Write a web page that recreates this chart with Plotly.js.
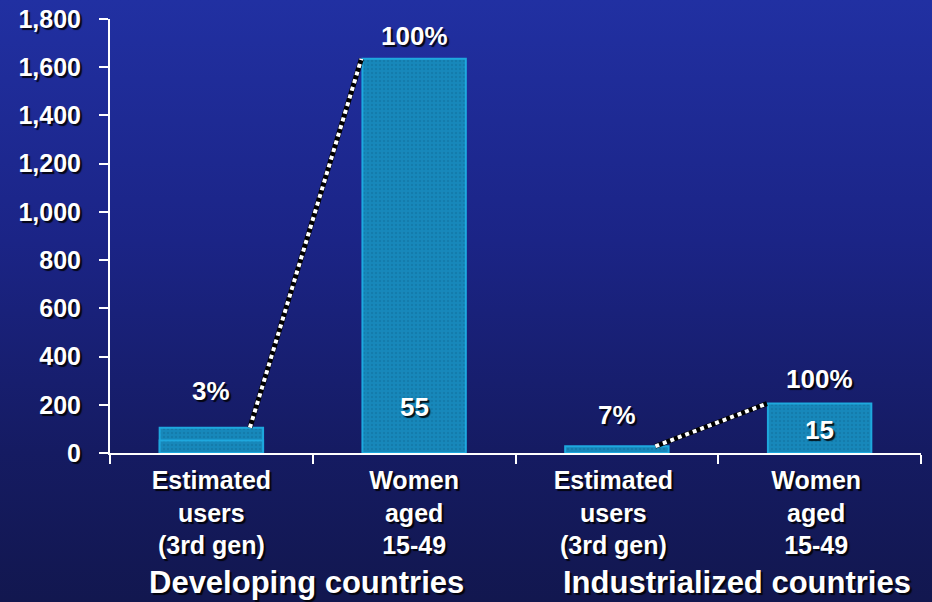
<!DOCTYPE html>
<html>
<head>
<meta charset="utf-8">
<script src="https://cdn.plot.ly/plotly-3.0.1.min.js"></script>
<style>
  html, body { margin: 0; padding: 0; }
  body { width: 932px; height: 602px; overflow: hidden;
         background: linear-gradient(to bottom, #2130a2 0%, #1b2486 40%, #151b62 75%, #12174f 100%); }
  #chart { width: 932px; height: 602px; }
</style>
</head>
<body>
<div id="chart"></div>
<script>
// ---- data ----
const categories = [
  'Estimated<br>users<br>(3rd gen)',
  'Women<br>aged<br>15-49',
  'Estimated <br>users <br>(3rd gen) ',
  'Women <br>aged <br>15-49 '
];
const totals = [105, 1635, 28, 205];          // millions
const devUsersLowerSegment = [52, null, null, null]; // split line inside first bar
const pctLabels = ['3%', '100%', '7%', '100%'];
const innerLabels = [null, '55', null, '15'];
const groupLabels = ['Developing countries', 'Industrialized countries'];
const connectorPairs = [[0, 1], [2, 3]];      // bar index pairs joined by dotted lines

// ---- styles ----
const txtFont = 'Liberation Sans, Arial, sans-serif';
const shadow = '2px 2px 1px rgba(0,0,0,0.85)';
const barFill = '#1788bb';
const barEdge = '#1ea8de';
const pctShift = [20, 6, 14, 8];
const innerShift = [0, 46, 0, 23];

const barMarker = {
  color: barFill,
  line: { color: barEdge, width: 2 },
  pattern: { shape: '.', fgcolor: 'rgba(8,70,105,0.35)', size: 4, solidity: 0.3, fillmode: 'overlay' }
};

const traces = [
  { type: 'bar', x: categories, y: totals, width: 0.51, marker: barMarker, hoverinfo: 'skip' },
  { type: 'bar', x: categories, y: devUsersLowerSegment, width: 0.51, marker: barMarker, hoverinfo: 'skip' }
];

connectorPairs.forEach(([a, b]) => {
  const xs = [a + 0.19, b - 0.26];
  const ys = [totals[a], totals[b]];
  traces.push({ type: 'scatter', mode: 'lines', xaxis: 'x2', yaxis: 'y', x: xs, y: ys,
    line: { color: '#000000', width: 5 }, hoverinfo: 'skip' });
  traces.push({ type: 'scatter', mode: 'lines', xaxis: 'x2', yaxis: 'y', x: xs, y: ys,
    line: { color: '#ffffff', width: 4, dash: 'dot' }, hoverinfo: 'skip' });
});

const annotations = [];
pctLabels.forEach((t, i) => {
  annotations.push({ xref: 'x2', yref: 'y', x: i, y: totals[i], text: '<b>' + t + '</b>',
    showarrow: false, yanchor: 'bottom', yshift: pctShift[i],
    font: { family: txtFont, size: 26, color: '#ffffff', shadow: shadow } });
});
innerLabels.forEach((t, i) => {
  if (!t) return;
  annotations.push({ xref: 'x2', yref: 'y', x: i, y: 0, text: '<b>' + t + '</b>',
    showarrow: false, yanchor: 'middle', yshift: innerShift[i],
    font: { family: txtFont, size: 26, color: '#ffffff', shadow: shadow } });
});
const groupX = [0.47, 2.59];
groupLabels.forEach((t, i) => {
  annotations.push({ xref: 'x2', yref: 'paper', x: groupX[i], y: 0, yshift: -129, text: '<b>' + t + '</b>',
    showarrow: false, yanchor: 'middle', xanchor: 'center',
    font: { family: txtFont, size: 31, color: '#ffffff', shadow: shadow } });
});

const layout = {
  width: 932, height: 602,
  margin: { l: 110, r: 11, t: 19, b: 149 },
  paper_bgcolor: 'rgba(0,0,0,0)',
  plot_bgcolor: 'rgba(0,0,0,0)',
  showlegend: false,
  barmode: 'overlay',
  xaxis: {
    type: 'category', categoryorder: 'array', categoryarray: categories,
    range: [-0.5, 3.5],
    showline: true, linecolor: '#ffffff', linewidth: 2,
    ticks: 'outside', tickson: 'boundaries', ticklen: 9, tickwidth: 2, tickcolor: '#ffffff',
    ticklabelstandoff: 4,
    showgrid: false, zeroline: false,
    tickfont: { family: txtFont, size: 25, color: '#ffffff', weight: 'bold', shadow: shadow },
    fixedrange: true
  },
  xaxis2: { overlaying: 'x', range: [-0.5, 3.5], visible: false, fixedrange: true },
  yaxis: {
    range: [0, 1800], dtick: 200, tickformat: ',d',
    showline: true, linecolor: '#ffffff', linewidth: 2,
    ticks: 'outside', ticklen: 9, tickwidth: 2, tickcolor: '#ffffff',
    ticklabelstandoff: 13,
    showgrid: false, zeroline: false,
    tickfont: { family: txtFont, size: 25, color: '#ffffff', weight: 'bold', shadow: shadow },
    fixedrange: true
  },
  annotations: annotations
};

Plotly.newPlot('chart', traces, layout, { displayModeBar: false, staticPlot: true });
</script>
</body>
</html>
